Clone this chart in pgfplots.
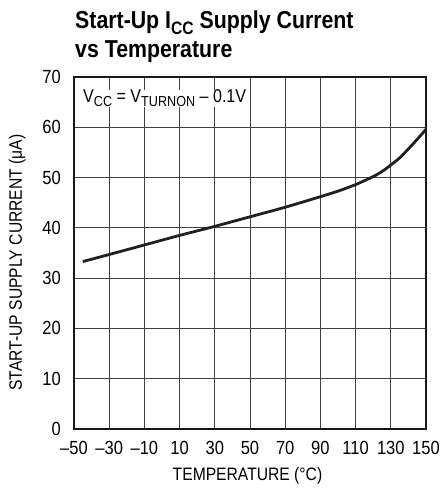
\documentclass[border=0pt]{standalone}
\usepackage{fontspec}
\setmainfont{Liberation Sans}[FakeStretch=0.87]
\usepackage{pgfplots}
\pgfplotsset{compat=1.18}
\definecolor{curve}{HTML}{231F20}
\begin{document}
\begin{tikzpicture}
\path[use as bounding box] (-74pt,-61pt) rectangle (367pt,429pt);
\begin{axis}[
  at={(0pt,0pt)}, anchor=south west,
  scale only axis, width=352pt, height=352pt,
  xmin=-50, xmax=150, ymin=0, ymax=70,
  xtick={-50,-30,-10,10,30,50,70,90,110,130,150},
  xticklabels={\textendash50,\textendash30,\textendash10,10,30,50,70,90,110,130,150},
  ytick={0,10,20,30,40,50,60,70},
  yticklabels={0,10,20,30,40,50,60,70},
  grid=major,
  major grid style={line width=0.9pt, color=black!75},
  axis line style={line width=1.4pt, color=black!90},
  tick style={draw=none},
  xticklabel style={font=\fontsize{19}{19}\selectfont, anchor=base, inner sep=0pt, yshift=-25pt},
  yticklabel style={font=\fontsize{19}{19}\selectfont, anchor=east, inner sep=0pt, xshift=-13pt},
  clip=false,
]
\addplot[line width=2.8pt, color=curve, smooth, tension=0.4] coordinates {
(-45,33.3) (-30,34.7) (-10,36.6) (10,38.5) (30,40.3) (50,42.2) (70,44.1)
(90,46.2) (100,47.3) (110,48.6) (120,50.2) (125,51.2) (130,52.5)
(135,53.9) (140,55.7) (145,57.6) (150,59.6)
};
\end{axis}
\node[anchor=base west, inner sep=0pt, font=\fontsize{24.5}{24.5}\selectfont\bfseries] at (1pt,400pt)
  {Start-Up I\raisebox{-0.22em}{\fontsize{18}{18}\selectfont CC} Supply Current};
\node[anchor=base west, inner sep=0pt, font=\fontsize{24.5}{24.5}\selectfont\bfseries] at (1pt,371pt)
  {vs Temperature};
\node[anchor=base west, inner sep=0pt, fill=white, font=\fontsize{18.5}{18.5}\selectfont] at (9pt,326pt)
  {V\raisebox{-0.2em}{\fontsize{14.5}{14.5}\selectfont CC} = V\raisebox{-0.2em}{\fontsize{14.5}{14.5}\selectfont TURNON} \textendash{} 0.1V};
\node[anchor=base, inner sep=0pt, rotate=90, font=\fontsize{18}{18}\selectfont] at (-52pt,166.5pt)
  {START-UP SUPPLY CURRENT (μA)};
\node[anchor=base, inner sep=0pt, font=\fontsize{18}{18}\selectfont] at (173.5pt,-51pt)
  {TEMPERATURE (°C)};
\end{tikzpicture}
\end{document}
